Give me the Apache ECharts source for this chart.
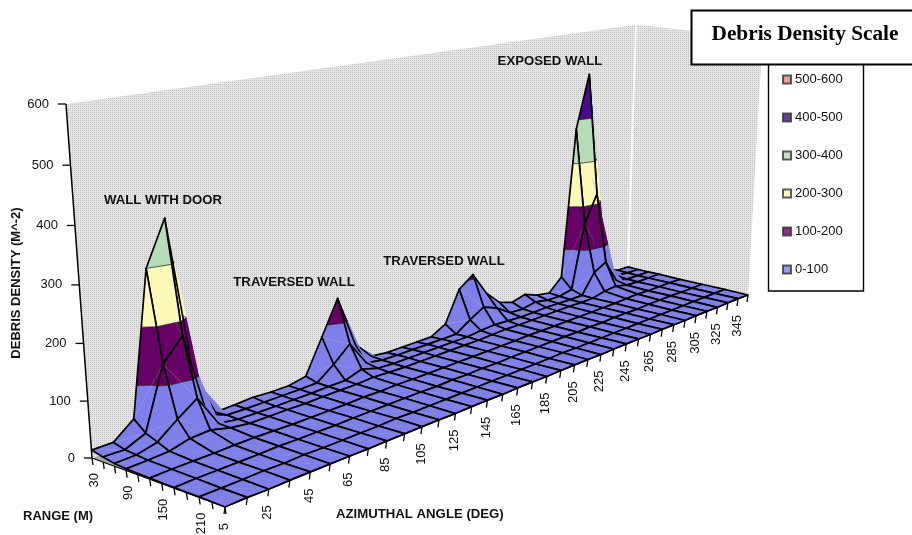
<!DOCTYPE html>
<html><head><meta charset="utf-8">
<style>html,body{margin:0;padding:0;background:#fff}#c{width:912px;height:535px}</style>
<script src="https://cdn.jsdelivr.net/npm/echarts@6/dist/echarts.min.js"></script>
</head><body><div id="c"></div>
<script>
// ---------- data ----------
const azimuths = [5,15,25,35,45,55,65,75,85,95,105,115,125,135,145,155,165,175,185,195,205,215,225,235,245,255,265,275,285,295,305,315,325,335,345,355];
const rangeTicks = [30,50,70,90,110,130,150,170,190,210,230,250];
const rangeRows = [30,50,70,90,130,170,210,250];
const density30  = [14,14,43,300,380,80,4,5,7,5,5,12,79,147,43,6,2,2,2,2,19,86,109,58,26,16,24,12,7,36,379,501,60,15,4,3];
const density50  = [9,8,24,136,175,20,5,4,4,4,4,5,30,60,10,4,3,3,3,3,3,24,42,29,8,6,12,6,5,11,160,223,45,6,3,2];
const density70  = [5,6,15,43,68,9,4,3,3,3,3,4,4,15,5,3,3,3,3,3,3,6,8,6,4,4,5,4,3,3,48,64,10,3,2,2];
const density90  = [3,4,6,15,17,8,3,3,3,2,3,3,3,5,3,2,2,2,2,2,2,3,4,3,3,3,3,3,2,2,9,11,4,2,2,2];
const density130 = [2,3,3,3,4,4,3,2,2,2,2,3,2,3,2,2,2,2,2,2,2,2,3,2,2,2,2,2,2,2,3,4,2,2,2,1];
const density170 = [1,2,2,2,2,3,2,2,1,2,2,2,2,2,1,2,1,2,1,2,2,2,2,2,1,2,1,2,2,1,2,2,2,1,1,1];
const density210 = [1,1,1,2,1,2,1,1,1,1,2,1,1,1,1,1,1,1,1,1,1,2,1,1,1,1,1,1,1,1,1,1,1,1,1,1];
const density250 = [0,1,0,1,1,1,1,0,1,1,1,1,0,1,1,0,1,1,0,1,1,1,0,1,1,1,0,1,1,0,1,1,0,1,1,0];
const densityRows = [density30,density50,density70,density90,density130,density170,density210,density250];
const bandNames = ['0-100','100-200','200-300','300-400','400-500','500-600'];
const bandColors = ['#7f7fea','#660066','#fff9b8','#b6dcb8','#4b0a8c','#f08078'];
const densityTicks = [0,100,200,300,400,500,600];
const annotations = ['WALL WITH DOOR','TRAVERSED WALL','TRAVERSED WALL','EXPOSED WALL'];

// ---------- view (a scale from chart values to the page) ----------
const View = {A:[92,458],D:[628,268],B:[225,507],C:[748,295],gBack:.45,gFront:.51,h:-.08,vx:458,vy:5440};
const annotationAt = [[163,200],[294,282],[444,261],[550,61]];
function warp(u,g){return u*(1+g)/(1+g*u);}
function project(az,range,z){
  const u=(az-5)/350, v=(range-30)/220, ub=warp(u,View.gBack), uf=warp(u,View.gFront), V=warp(v,View.h);
  const bx=View.A[0]+(View.D[0]-View.A[0])*ub, by=View.A[1]+(View.D[1]-View.A[1])*ub;
  const fx=View.B[0]+(View.C[0]-View.B[0])*uf, fy=View.B[1]+(View.C[1]-View.B[1])*uf;
  const x=bx+(fx-bx)*V, y=by+(fy-by)*V;
  const W=1+.3605*u-.058*v, H=354/Math.pow(W,1.22), t=z/600, f=t*.957/(1-.043*t);
  return [x+H*(x-View.vx)/(View.vy-y)*f, y-H*f];
}

// ---------- geometry helpers ----------
function clip(poly,level,keepAbove){
  const out=[];
  for(let k=0;k<poly.length;k++){
    const a=poly[k], b=poly[(k+1)%poly.length];
    const ia=keepAbove?a[2]>=level:a[2]<=level, ib=keepAbove?b[2]>=level:b[2]<=level;
    if(ia) out.push(a);
    if(ia!==ib){const s=(level-a[2])/(b[2]-a[2]); out.push([a[0]+(b[0]-a[0])*s,a[1]+(b[1]-a[1])*s,level]);}
  }
  return out;
}
function contour(tri,level){
  const pts=[];
  for(let k=0;k<3;k++){
    const a=tri[k],b=tri[(k+1)%3];
    if((a[2]<level)!==(b[2]<level)){const s=(level-a[2])/(b[2]-a[2]); pts.push([a[0]+(b[0]-a[0])*s,a[1]+(b[1]-a[1])*s,level]);}
  }
  return pts.length===2?pts:null;
}
const dot=document.createElement('canvas');dot.width=dot.height=2;
(function(){const c=dot.getContext('2d');c.fillStyle='#e4e4e4';c.fillRect(0,0,2,2);c.fillStyle='#c4c4c4';c.fillRect(0,0,1,1);})();
const FONT='"Liberation Sans", Arial, sans-serif';

// cells ordered far to near
const cells=[];
for(let j=0;j<rangeRows.length-1;j++) for(let i=azimuths.length-2;i>=0;i--) cells.push([i,j]);

function renderCell(params,api){
  const i=api.value(0), j=api.value(1);
  const c=p=>api.coord(project(p[0],p[1],p[2]));
  const n=(a,b)=>[azimuths[a],rangeRows[b],densityRows[b][a]];
  const n00=n(i,j),n10=n(i+1,j),n11=n(i+1,j+1),n01=n(i,j+1);
  const children=[];
  [[n00,n10,n11],[n00,n11,n01]].forEach(tri=>{
    bandColors.forEach((col,b)=>{
      let p=clip(tri,b*100,true); if(p.length) p=clip(p,(b+1)*100,false);
      if(p.length>2) children.push({type:'polygon',shape:{points:p.map(c)},style:{fill:col}});
    });
  });
  [[n00,n10,n11],[n00,n11,n01]].forEach(tri=>{
    [100,200,300,400,500].forEach(l=>{
      const s=contour(tri,l);
      if(s) children.push({type:'polyline',shape:{points:s.map(c)},style:{fill:'none',stroke:'#1a1a1a',lineWidth:.7}});
    });
  });
  children.push({type:'polygon',shape:{points:[n00,n10,n11,n01].map(c)},style:{fill:'none',stroke:'#000',lineWidth:1.7,lineJoin:'round'}});
  return {type:'group',children};
}
function renderWalls(params,api){
  const last=azimuths[azimuths.length-1], far=rangeRows[rangeRows.length-1], top=densityTicks[densityTicks.length-1];
  const c=(a,r,z)=>api.coord(project(a,r,z));
  const d0=azimuths[0], r0=rangeRows[0];
  return {type:'group',children:[
    {type:'polygon',shape:{points:[c(d0,r0,0),c(last,r0,0),c(last,far,0),c(d0,far,0)]},style:{fill:'#a9a9a9'}},
    {type:'polygon',shape:{points:[c(d0,r0,0),c(last,r0,0),c(last,r0,top),c(d0,r0,top)]},style:{fill:{image:dot,repeat:'repeat'}}},
    {type:'polygon',shape:{points:[c(last,r0,0),c(last,far,0),c(last,far,top),c(last,r0,top)]},style:{fill:{image:dot,repeat:'repeat'}}},
    {type:'line',shape:{x1:c(last,r0,0)[0],y1:c(last,r0,0)[1],x2:c(last,r0,top)[0],y2:c(last,r0,top)[1]},style:{stroke:'#fff',lineWidth:2}}
  ]};
}
function seg(a,b,w){return {type:'line',shape:{x1:a[0],y1:a[1],x2:b[0],y2:b[1]},style:{stroke:'#000',lineWidth:w||1.3}};}
function label(text,x,y,rot,o){return {type:'text',x,y,rotation:rot||0,style:Object.assign({text,fill:'#111',font:'13px '+FONT,align:'right',verticalAlign:'middle'},o||{})};}
function renderAxes(params,api){
  const last=azimuths[azimuths.length-1], far=rangeRows[rangeRows.length-1], top=densityTicks[densityTicks.length-1];
  const c=(a,r,z)=>api.coord(project(a,r,z));
  const d0=azimuths[0], r0=rangeRows[0], ch=[];
  ch.push(seg(c(d0,r0,0),c(d0,r0,top),1.5));
  ch.push(seg(c(d0,r0,0),c(d0,far,0)));
  ch.push(seg(c(d0,far,0),c(last,far,0)));
  densityTicks.forEach(z=>{
    const p=c(d0,r0,z);
    ch.push(seg(p,[p[0]-8,p[1]]));
    ch.push(label(String(z),p[0]-17,p[1],0));
  });
  rangeTicks.forEach((r,k)=>{
    const p=c(d0,r,0);
    ch.push(seg(p,[p[0]+1,p[1]+7]));
    if(k%3===0) ch.push(label(String(r),p[0]+2,p[1]+15,Math.PI/2));
  });
  azimuths.forEach((a,k)=>{
    const p=c(a,far,0);
    ch.push(seg(p,[p[0]-1,p[1]+7]));
    if(k%2===0) ch.push(label(String(a),p[0]-1,p[1]+16,Math.PI/2));
  });
  const bold='bold 13.2px '+FONT;
  ch.push(label('DEBRIS DENSITY (M^-2)',16,283,Math.PI/2,{font:'bold 13px '+FONT,align:'center'}));
  ch.push(label('RANGE (M)',23,516,0,{font:'bold 13px '+FONT,align:'left'}));
  ch.push(label('AZIMUTHAL ANGLE (DEG)',336,514,0,{font:bold,align:'left'}));
  annotations.forEach((t,k)=>ch.push(label(t,annotationAt[k][0],annotationAt[k][1],0,{font:bold,align:'center'})));
  return {type:'group',children:ch};
}

const chart=echarts.init(document.getElementById('c'),null,{renderer:'canvas'});
const legendSeries=bandNames.map((n,k)=>({type:'scatter',name:n,data:[],itemStyle:{color:bandColors[k],borderColor:'#333',borderWidth:1}}));
chart.setOption({
  animation:false,
  grid:{left:0,right:0,top:0,bottom:0},
  xAxis:{type:'value',min:0,max:912,show:false},
  yAxis:{type:'value',min:0,max:535,inverse:true,show:false},
  legend:{orient:'vertical',left:782,top:73,itemWidth:8,itemHeight:8,itemGap:25,selectedMode:false,z:20,
    data:bandNames.slice().reverse(),icon:'rect',textStyle:{color:'#111',fontSize:13,fontFamily:FONT,padding:[0,0,0,-1]},padding:0},
  graphic:[
    {type:'rect',z:10,shape:{x:768.5,y:60,width:95,height:231},style:{fill:'#fff',stroke:'#000',lineWidth:1.4}},
    {type:'rect',z:11,shape:{x:691.5,y:10.5,width:222,height:54},style:{fill:'#fff',stroke:'#000',lineWidth:2}},
    {type:'text',z:12,x:805,y:34,style:{text:'Debris Density Scale',fill:'#000',font:'bold 21.3px "Liberation Serif", serif',align:'center',verticalAlign:'middle'}}
  ],
  series:[
    {type:'custom',name:'walls',silent:true,clip:false,z:1,renderItem:renderWalls,data:[[0,0]],encode:{x:0,y:1}},
    {type:'custom',name:'surface',silent:true,clip:false,z:2,renderItem:renderCell,data:cells,encode:{x:0,y:1}},
    {type:'custom',name:'axes',silent:true,clip:false,z:3,renderItem:renderAxes,data:[[0,0]],encode:{x:0,y:1}}
  ].concat(legendSeries)
});
</script></body></html>
